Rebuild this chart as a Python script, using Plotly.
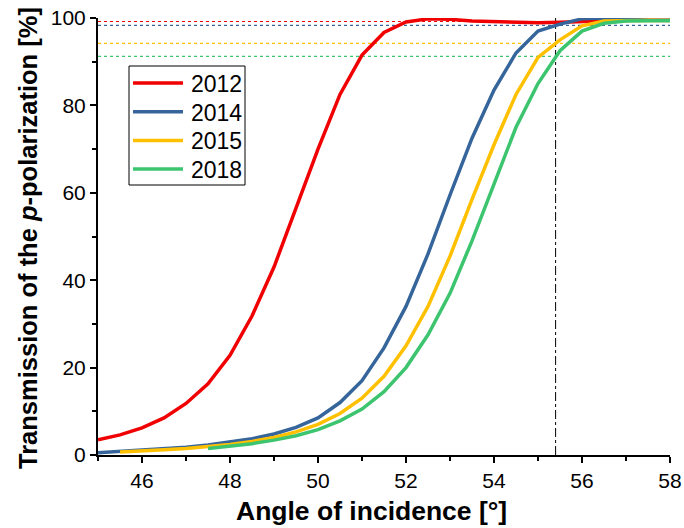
import plotly.graph_objects as go

# angles of incidence in degrees, 0.5 deg steps
angles = [45 + 0.5 * i for i in range(27)]

# transmission of the p-polarization [%]
t_2012 = [3.5, 4.6, 6.2, 8.5, 11.8, 16.3, 22.8, 31.8, 43.0, 56.5, 70.0, 82.5, 91.5,
          96.7, 99.1, 99.8, 99.7, 99.3, 99.1, 99.0, 98.9, 99.0, 99.2, 99.4, 99.5, 99.5, 99.5]
t_2014 = [0.5, 0.8, 1.1, 1.4, 1.8, 2.3, 2.9, 3.7, 4.8, 6.3, 8.5, 12.0, 17.0,
          24.5, 34.0, 46.0, 59.5, 72.5, 83.5, 92.0, 97.0, 98.6, 99.8, 100.0, 99.8, 99.5, 99.4]
angles_2015 = angles[1:]
t_2015 = [0.7, 0.9, 1.2, 1.5, 1.9, 2.4, 3.1, 4.0, 5.3, 7.0, 9.5, 13.0,
          18.0, 25.0, 34.0, 45.5, 58.5, 71.0, 82.5, 91.0, 95.0, 98.2, 99.3, 99.5, 99.5, 99.4]
angles_2018 = angles[5:]
t_2018 = [1.5, 2.0, 2.6, 3.4, 4.4, 5.8, 7.8, 10.5, 14.5, 20.0, 27.5, 37.0,
          49.0, 62.0, 75.0, 85.0, 92.5, 97.0, 98.8, 99.3, 99.4, 99.4]

years = ["2012", "2014", "2015", "2018"]
colors = ["#f00000", "#35659a", "#ffc000", "#3cc46e"]
xs = [angles, angles, angles_2015, angles_2018]
ys = [t_2012, t_2014, t_2015, t_2018]

# transmission levels reached at the marked angle
marked_angle = 55.4
levels = [99.2, 98.3, 94.2, 91.2]

W, H = 684, 528
L, R, T, B = 98, 670, 18, 455   # plot area in pixels


def px(x):
    return (x - L) / (R - L)


def py(y):
    return (B - y) / (B - T)


fig = go.Figure()

for lvl, c in zip(levels, colors):
    fig.add_trace(go.Scatter(x=[45, 58], y=[lvl, lvl], mode="lines", showlegend=False,
                             line=dict(color=c, width=1.2, dash="dot"), hoverinfo="skip"))

fig.add_trace(go.Scatter(x=[marked_angle, marked_angle], y=[0, 100], mode="lines",
                         showlegend=False, line=dict(color="black", width=1, dash="dashdot"),
                         hoverinfo="skip"))

for name, x, y, c in zip(years, xs, ys, colors):
    fig.add_trace(go.Scatter(x=x, y=y, name=name, mode="lines", showlegend=False,
                             line=dict(color=c, width=3.5)))

axis_font = dict(family="Arial", size=21, color="black")
common = dict(ticks="outside", ticklen=6, tickwidth=2, tickcolor="black",
              showline=True, linewidth=2, linecolor="black", showgrid=False,
              zeroline=False, tickfont=axis_font, automargin=False,
              ticklabeloverflow="allow")
fig.update_xaxes(range=[45, 58], dtick=2, tick0=46,
                 minor=dict(dtick=1, ticks="outside", ticklen=4, tickwidth=2, tickcolor="black"),
                 **common)
fig.update_yaxes(range=[0, 100], dtick=20,
                 minor=dict(dtick=10, ticks="outside", ticklen=4, tickwidth=2, tickcolor="black"),
                 **common)

# axis titles
fig.add_annotation(text="<b>Angle of incidence [°]</b>", xref="paper", yref="paper",
                   x=px(371), y=py(511), showarrow=False, xanchor="center", yanchor="middle",
                   font=dict(family="Arial", size=26.5, color="black"))
fig.add_annotation(text="<b>Transmission of the <i>p</i>-polarization [%]</b>",
                   xref="paper", yref="paper", x=px(28), y=py(238), textangle=-90,
                   showarrow=False, xanchor="center", yanchor="middle",
                   font=dict(family="Arial", size=25.5, color="black"))

# legend box drawn by hand to match the line sample length
fig.add_shape(type="rect", xref="paper", yref="paper", x0=px(129), x1=px(245),
              y0=py(66), y1=py(185), line=dict(color="black", width=1), fillcolor="white",
              layer="above")
for i, (name, c) in enumerate(zip(years, colors)):
    yc = 83 + i * 28.7
    fig.add_shape(type="line", xref="paper", yref="paper", x0=px(133), x1=px(183),
                  y0=py(yc), y1=py(yc), line=dict(color=c, width=3.5), layer="above")
    fig.add_annotation(text=name, xref="paper", yref="paper", x=px(189), y=py(yc + 1),
                       showarrow=False, xanchor="left", yanchor="middle",
                       font=dict(family="Arial", size=23, color="black"))

fig.update_layout(
    width=W, height=H,
    margin=dict(l=L, r=W - R, t=T, b=H - B),
    plot_bgcolor="white", paper_bgcolor="white",
    showlegend=False,
)

# drop the default 8px page margin so the figure fills the window
fig.write_html("out.html", config={"displayModeBar": False},
               post_script="document.body.style.margin='0';")
